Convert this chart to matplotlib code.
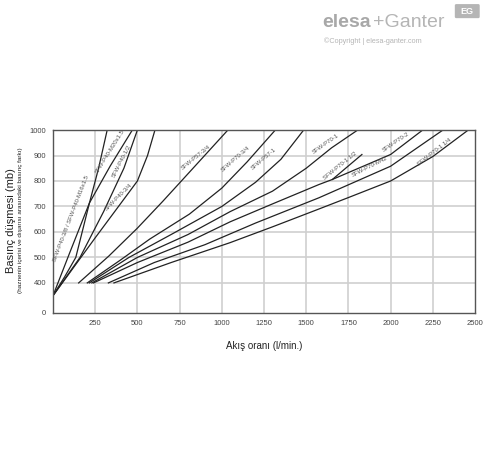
import matplotlib
matplotlib.use("Agg")
import numpy as np
from matplotlib import pyplot as plt
from matplotlib.patches import FancyBboxPatch

plt.rcParams['font.family'] = ['Liberation Sans', 'DejaVu Sans']

# curve data (flow l/min, pressure drop mb)
p40_38_x = [0, 70, 135, 216, 270, 321]
p40_38_y = [350, 425, 500, 714, 850, 1000]
p40_m20_x = [0, 100, 216, 340, 470]
p40_m20_y = [350, 520, 714, 860, 1000]
p40_12_x = [0, 160, 300, 420, 500]
p40_12_y = [350, 500, 680, 850, 1000]
p40_34_x = [0, 250, 500, 560, 604]
p40_34_y = [350, 577, 800, 900, 1000]
p57_34_x = [152, 330, 500, 650, 824, 1036]
p57_34_y = [400, 505, 615, 720, 846, 1000]
p70_34_x = [203, 400, 573, 808, 1000, 1150, 1317]
p70_34_y = [400, 490, 572, 670, 772, 875, 1000]
p57_1_x = [215, 450, 700, 1000, 1200, 1350, 1485]
p57_1_y = [400, 500, 590, 700, 795, 885, 1000]
p70_1_x = [230, 500, 800, 1050, 1300, 1500, 1650, 1805]
p70_1_y = [400, 500, 590, 680, 760, 850, 930, 1000]
p70_2_x = [240, 500, 800, 1050, 1300, 1575, 1655, 2000, 2190]
p70_2_y = [400, 480, 560, 640, 710, 786, 806, 904, 1000]
p70_112_x = [1655, 1830]
p70_112_y = [806, 904]
p70_m42_x = [328, 600, 900, 1200, 1575, 2000, 2310]
p70_m42_y = [400, 480, 550, 635, 734, 858, 1000]
p70_114_x = [361, 700, 1049, 1300, 1575, 1750, 2000, 2250, 2460]
p70_114_y = [400, 480, 558, 620, 690, 735, 800, 896, 1000]

curves = [
    (p40_38_x, p40_38_y), (p40_m20_x, p40_m20_y), (p40_12_x, p40_12_y),
    (p40_34_x, p40_34_y), (p57_34_x, p57_34_y), (p70_34_x, p70_34_y),
    (p57_1_x, p57_1_y), (p70_1_x, p70_1_y), (p70_2_x, p70_2_y),
    (p70_112_x, p70_112_y), (p70_m42_x, p70_m42_y), (p70_114_x, p70_114_y),
]

# label text, anchor on the curve (x, y), screen rotation
labels = [
    ("SFW-P40-3/8 / SFW-P40-M16x1.5", 132, 648, 69),
    ("SFW-P40-M20x1.5", 360, 905, 58),
    ("SFW-P40-1/2", 428, 870, 63),
    ("SFW-P40-3/4", 409, 725, 45),
    ("SFW-P57-3/4", 861, 880, 39),
    ("SFW-P70-3/4", 1098, 875, 41),
    ("SFW-P57-1", 1266, 875, 40),
    ("SFW-P70-1", 1631, 930, 35),
    ("SFW-P70-1 1/2", 1720, 845, 39),
    ("SFW-P70-M42", 1888, 840, 27),
    ("SFW-P70-2", 2046, 938, 34),
    ("SFW-P70-1 1/4", 2273, 898, 38),
]

x_ticks = [250, 500, 750, 1000, 1250, 1500, 1750, 2000, 2250, 2500]
y_ticks = [400, 500, 600, 700, 800, 900, 1000]
y_bottom = 282

fig = plt.figure(figsize=(4.88, 4.54), dpi=100)
ax = fig.add_axes([0.1086, 0.3106, 0.8648, 0.403])

for xv in x_ticks[:-1]:
    ax.axvline(xv, color="#cfcfcf", lw=1.2, zorder=0)
for yv in y_ticks[:-1]:
    ax.axhline(yv, color="#cfcfcf", lw=1.2, zorder=0)

for cx, cy in curves:
    ax.plot(cx, cy, color="#222222", lw=0.9, zorder=2)

# labels sit just above-left of their curve
for txt, lx, ly, rot in labels:
    r = np.deg2rad(rot)
    ax.annotate(txt, (lx, ly), xytext=(-3.2 * np.sin(r), 3.2 * np.cos(r)),
                textcoords="offset points", rotation=rot, fontsize=4.3,
                color="#555555", ha="center", va="center",
                rotation_mode="anchor", zorder=3)

ax.set_xlim(0, 2500)
ax.set_ylim(y_bottom, 1000)
ax.set_xticks(x_ticks)
ax.set_xticklabels([str(v) for v in x_ticks])
ax.set_yticks([y_bottom] + y_ticks)
ax.set_yticklabels(["0"] + [str(v) for v in y_ticks])
ax.tick_params(length=0, labelsize=5.5, colors="#444444", pad=5)
for s in ax.spines.values():
    s.set_color("#555555")
    s.set_linewidth(1.0)

ax.set_xlabel("Akış oranı (l/min.)", fontsize=7, color="#222222", labelpad=10)
fig.text(0.022, 0.515, "Basınç düşmesi (mb)", rotation=90, fontsize=8,
         color="#222222", ha="center", va="center")
fig.text(0.042, 0.515, "(haznenin içerisi ve dışarısı arasındaki basınç farkı)",
         rotation=90, fontsize=4.6, color="#222222", ha="center", va="center")

# watermark
fig.text(0.66, 0.950, "elesa", fontsize=14, fontweight="bold", color="#a8a8a8",
         ha="left", va="center")
fig.text(0.765, 0.950, "+Ganter", fontsize=14, color="#b5b5b5",
         ha="left", va="center")
fig.text(0.663, 0.910, "©Copyright | elesa-ganter.com", fontsize=5.2,
         color="#b5b5b5", ha="left", va="center")
box = FancyBboxPatch((0.935, 0.963), 0.045, 0.025, boxstyle="round,pad=0.003",
                     transform=fig.transFigure, fc="#b5b5b5", ec="none")
fig.patches.append(box)
fig.text(0.957, 0.975, "EG", fontsize=6.5, fontweight="bold", color="white",
         ha="center", va="center")

fig.savefig("out.png", dpi=100)
